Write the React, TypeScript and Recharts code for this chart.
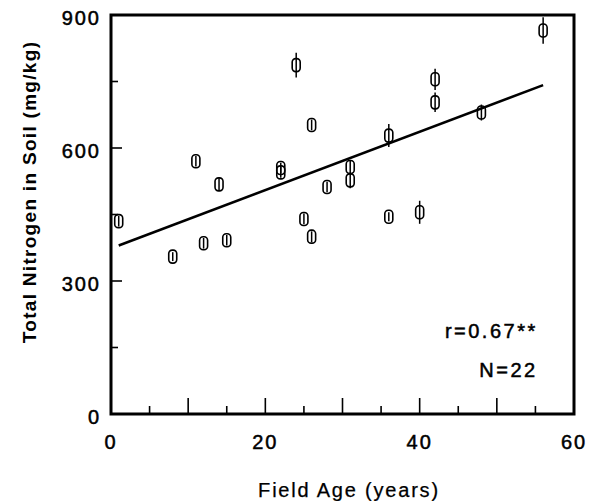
import { ScatterChart, Scatter, XAxis, YAxis, ErrorBar, ReferenceArea, ReferenceDot } from 'recharts';

const fieldAge = [1, 8, 11, 12, 14, 15, 22, 22, 24, 25, 26, 26, 28, 31, 31, 36, 36, 40, 42, 42, 48, 56];
const nitrogen = [435, 355, 570, 385, 518, 392, 555, 545, 787, 440, 652, 400, 512, 557, 527, 628, 445, 455, 755, 703, 680, 865];
const nitrogenErr = [12, 10, 12, 12, 15, 12, 12, 12, 28, 12, 12, 12, 12, 15, 18, 26, 10, 26, 24, 22, 18, 30];

// fitted line endpoints
const fitAge = [1, 56];
const fitNitrogen = [380, 742];

const xTicks = [0, 5, 10, 15, 20, 25, 30, 35, 40, 45, 50, 55, 60];
const xLabelTicks = [0, 20, 40, 60];
const yTicks = [0, 150, 300, 450, 600, 750, 900];
const yLabelTicks = [0, 300, 600, 900];

const points = fieldAge.map((age, i) => ({ age, n: nitrogen[i], err: nitrogenErr[i] }));
const fit = fitAge.map((age, i) => ({ age, n: fitNitrogen[i] }));

const font = '"Liberation Sans", Arial, Helvetica, sans-serif';

const XTick = (props: any) => {
    const { x, y, payload } = props;
    const v = payload.value;
    const len = v % 10 === 0 ? 16 : 8;
    return (
        <g>
            {v > 0 && v < 60 && <line x1={x} y1={y} x2={x} y2={y - len} stroke="#000" strokeWidth={1.6} />}
            {xLabelTicks.includes(v) && (
                <text x={x} y={y + 35} textAnchor="middle" fontFamily={font} fontSize={20} letterSpacing={2}
                    fill="#000" stroke="#000" strokeWidth={0.5}>
                    {v}
                </text>
            )}
        </g>
    );
};

const YTick = (props: any) => {
    const { x, y, payload } = props;
    const v = payload.value;
    const len = v % 300 === 0 ? 11 : 7;
    return (
        <g>
            {v > 0 && v < 900 && <line x1={x} y1={y} x2={x + len} y2={y} stroke="#000" strokeWidth={1.6} />}
            {yLabelTicks.includes(v) && (
                <text x={x - 10} y={y + 10} textAnchor="end" fontFamily={font} fontSize={20} letterSpacing={2}
                    fill="#000" stroke="#000" strokeWidth={0.5}>
                    {v}
                </text>
            )}
        </g>
    );
};

const Marker = (props: any) => {
    const { cx, cy } = props;
    return <rect x={cx - 4} y={cy - 6.5} width={8} height={13} rx={3.5} fill="none" stroke="#000" strokeWidth={1.6} />;
};

const annot = (txt: string) => (props: any) => {
    const { viewBox } = props;
    return (
        <text x={viewBox.x} y={viewBox.y} textAnchor="end" fontFamily={font} fontSize={20} letterSpacing={2.5}
            fill="#000" stroke="#000" strokeWidth={0.5}>
            {txt}
        </text>
    );
};

export default function App() {
    return (
        <div style={{ position: 'absolute', left: 0, top: 0, width: 593, height: 501, background: '#fff' }}>
            <ScatterChart width={593} height={501} margin={{ top: 15, right: 19, left: 0, bottom: 0 }}>
                <XAxis
                    type="number"
                    dataKey="age"
                    domain={[0, 60]}
                    ticks={xTicks}
                    interval={0}
                    height={87}
                    axisLine={false}
                    tickLine={false}
                    tickSize={0}
                    tickMargin={0}
                    tick={<XTick />}
                    label={{
                        content: () => (
                            <text x={349} y={497} textAnchor="middle" fontFamily={font} fontSize={20} letterSpacing={1.8}
                                fill="#000" stroke="#000" strokeWidth={0.25}>
                                Field Age (years)
                            </text>
                        ),
                    }}
                />
                <YAxis
                    type="number"
                    dataKey="n"
                    domain={[0, 900]}
                    ticks={yTicks}
                    interval={0}
                    width={111}
                    axisLine={false}
                    tickLine={false}
                    tickSize={0}
                    tickMargin={0}
                    tick={<YTick />}
                    label={{
                        content: () => (
                            <text x={36} y={192} transform="rotate(-90 36 192)" textAnchor="middle" fontFamily={font}
                                fontSize={19} fontWeight="bold" letterSpacing={1.3} fill="#000">
                                Total Nitrogen in Soil (mg/kg)
                            </text>
                        ),
                    }}
                />
                <ReferenceArea x1={0} x2={60} y1={0} y2={900} fill="none" stroke="#000" strokeWidth={3} ifOverflow="visible" />
                <Scatter data={fit} line={{ stroke: '#000', strokeWidth: 2.5 }} shape={() => <g />} isAnimationActive={false} />
                <Scatter data={points} shape={<Marker />} isAnimationActive={false}>
                    <ErrorBar dataKey="err" direction="y" width={0} stroke="#000" strokeWidth={1.5} isAnimationActive={false} />
                </Scatter>
                <ReferenceDot x={55.3} y={171} r={0} fill="none" stroke="none" ifOverflow="visible" label={annot('r=0.67**')} />
                <ReferenceDot x={55.3} y={83.5} r={0} fill="none" stroke="none" ifOverflow="visible" label={annot('N=22')} />
            </ScatterChart>
        </div>
    );
}
